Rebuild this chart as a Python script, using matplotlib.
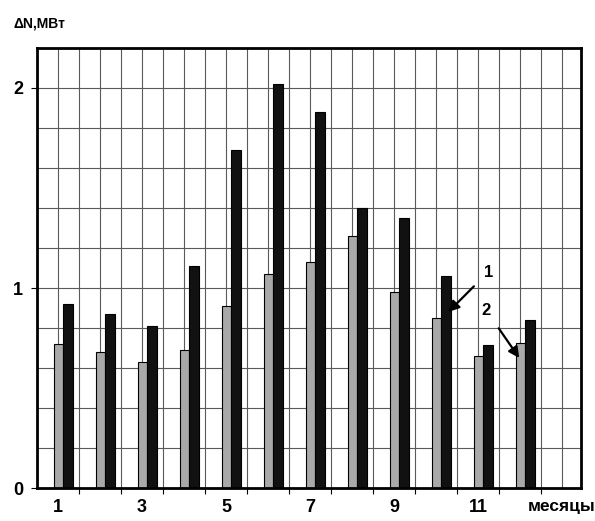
from matplotlib import pyplot as plt
import numpy as np

plt.rcParams['font.family'] = ['Liberation Sans', 'DejaVu Sans']
plt.rcParams['font.weight'] = 'bold'

months = np.arange(1, 13)
series2 = [0.72, 0.68, 0.63, 0.69, 0.91, 1.07, 1.13, 1.26, 0.98, 0.85, 0.66, 0.725]  # gray
series1 = [0.92, 0.87, 0.81, 1.11, 1.69, 2.02, 1.88, 1.40, 1.35, 1.06, 0.715, 0.84]  # black
xtick_pos = [1, 3, 5, 7, 9, 11, 13]
xtick_labels = ['1', '3', '5', '7', '9', '11', 'месяцы']

fig = plt.figure(figsize=(5.95, 5.21), dpi=100)
ax = fig.add_axes([0.0622, 0.0633, 0.9143, 0.8446])
ax.set_axisbelow(True)

bar_width = 0.22
ax.bar(months + 0.005, series2, bar_width, color='#a9a9a9', edgecolor='black', linewidth=0.8)
ax.bar(months + 0.235, series1, bar_width, color='#111111', edgecolor='black', linewidth=0.8)

ax.set_xlim(0.5, 13.45)
ax.set_ylim(0, 2.2)

# grid
for x in np.arange(0.5, 13.5, 0.5):
    ax.axvline(x, color='#5a5a5a', linewidth=0.8, zorder=0)
for y in np.arange(0.2, 2.2, 0.2):
    ax.axhline(y, color='#5a5a5a', linewidth=0.8, zorder=0)

ax.set_yticks([0, 1, 2])
ax.set_yticklabels(['0', '1', '2'], fontsize=13, fontweight='bold')
ax.set_xticks(xtick_pos)
ax.set_xticklabels(xtick_labels, fontsize=13, fontweight='bold')
ax.tick_params(axis='x', length=0, pad=8)
ax.set_xticks(np.arange(1.5, 13.5, 1), minor=True)
ax.tick_params(axis='x', which='minor', length=4, width=0.8, direction='out')
ax.tick_params(axis='y', length=4, width=0.8, pad=6)
ax.get_xticklabels()[-1].set_fontsize(12.5)

for s in ax.spines.values():
    s.set_linewidth(2)

fig.text(0.022, 0.955, 'ΔN,МВт', fontsize=10, fontweight='bold', ha='left', va='center')

ax.annotate('1', xy=(10.29, 0.88), xytext=(11.24, 1.08), fontsize=12, fontweight='bold',
            ha='center', va='center',
            arrowprops=dict(arrowstyle='-|>', color='black', lw=1.6, mutation_scale=16,
                            shrinkA=7, shrinkB=0))
ax.annotate('2', xy=(11.98, 0.65), xytext=(11.19, 0.89), fontsize=12, fontweight='bold',
            ha='center', va='center',
            arrowprops=dict(arrowstyle='-|>', color='black', lw=1.6, mutation_scale=16,
                            shrinkA=7, shrinkB=0))

plt.savefig('out.png', dpi=100)
